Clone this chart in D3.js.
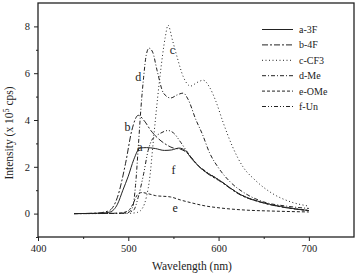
<!DOCTYPE html>
<html>
<head>
<meta charset="utf-8">
<script src="https://cdn.jsdelivr.net/npm/d3@7"></script>
<style>
  body { margin: 0; background: #fff; }
  svg text { font-family: "Liberation Serif", "Times New Roman", "DejaVu Serif", serif; fill: #222; }
</style>
</head>
<body>
<div id="chart"></div>
<script>
// Emission spectra, [wavelength nm, intensity x 10^5 cps]
const a3F = [[440,0],[470,0.02],[480,0.07],[488,0.4],[494,1.0],[500,1.6],[506,2.3],[513,2.8],[520,2.82],[530,2.78],[540,2.7],[548,2.72],[556,2.8],[563,2.7],[570,2.35],[580,1.95],[600,1.45],[625,0.8],[650,0.46],[675,0.26],[700,0.13]];
const b4F = [[440,0],[465,0.02],[475,0.08],[480,0.15],[488,0.7],[497,2.15],[504,3.57],[511,4.2],[518,3.95],[525,3.55],[532,3.25],[540,3.0],[550,2.8],[558,2.75],[565,2.6],[572,2.3],[580,1.95],[590,1.65],[600,1.42],[625,0.78],[650,0.45],[675,0.25],[700,0.13]];
const cCF3 = [[440,0],[500,0.01],[510,0.05],[516,0.25],[520,0.7],[524,1.6],[527,2.8],[530,4.0],[535,5.83],[541,7.55],[544,8.05],[549,7.4],[554,6.7],[561,5.84],[569,5.45],[576,5.6],[583,5.7],[590,5.4],[597,4.8],[605,3.9],[615,2.9],[627,2.0],[640,1.45],[660,0.85],[680,0.5],[700,0.32]];
const dMe = [[440,0],[490,0.01],[500,0.05],[505,0.3],[508,1.2],[511,2.8],[514,4.5],[517,5.83],[520,6.8],[523,7.07],[527,6.9],[532,6.1],[539,5.15],[547,4.94],[554,5.07],[561,5.15],[566,4.9],[575,4.0],[582,3.4],[590,2.6],[600,1.95],[613,1.35],[630,0.85],[650,0.5],[675,0.32],[700,0.22]];
const eOMe = [[440,0],[490,0.02],[500,0.12],[505,0.4],[510,0.8],[515,0.9],[522,0.85],[530,0.77],[547,0.71],[558,0.58],[569,0.47],[585,0.33],[602,0.24],[630,0.15],[658,0.11],[700,0.07]];
const fUn = [[440,0],[490,0.01],[500,0.05],[506,0.15],[511,0.7],[517,1.7],[522,2.7],[527,3.2],[535,3.42],[544,3.55],[550,3.45],[558,3.05],[566,2.6],[575,2.15],[590,1.7],[600,1.45],[625,0.8],[650,0.46],[675,0.26],[700,0.13]];

const seriesNames = ['a-3F', 'b-4F', 'c-CF3', 'd-Me', 'e-OMe', 'f-Un'];
const seriesData = [a3F, b4F, cCF3, dMe, eOMe, fUn];
const dashes = ['none', '6,2,2,2', '1,2.5', '4,2,1,2', '3,2', '4,2,1,2,1,2'];

// in-plot letters: [text, wavelength, intensity]
const curveLabels = [['c', 549, 7.0], ['d', 511, 5.84], ['b', 499, 3.7], ['a', 513, 2.84], ['f', 550, 1.86], ['e', 552, 0.24]];

const xMajor = [400, 500, 600, 700];
const xMinor = [450, 550, 650];
const yMajor = [0, 2, 4, 6, 8];
const yMinor = [-1, 1, 3, 5, 7];

const W = 357, H = 273;
const margin = {top: 3, right: 3, bottom: 36, left: 38};
const serif = '"Liberation Serif", "Times New Roman", "DejaVu Serif", serif';

const svg = d3.select('#chart')
    .append('svg')
        .attr('width', W)
        .attr('height', H)
        .attr('font-family', serif);

const x = d3.scaleLinear()
    .domain([400, 750])
    .range([margin.left, W - margin.right]);
const y = d3.scaleLinear()
    .domain([-1, 9])
    .range([H - margin.bottom, margin.top]);

// Frame
svg.append('rect')
    .attr('x', x(400))
    .attr('y', y(9))
    .attr('width', x(750) - x(400))
    .attr('height', y(-1) - y(9))
    .attr('fill', 'none')
    .attr('stroke', '#222')
    .attr('stroke-width', 1.3);

// X axis
svg.append('g')
    .attr('transform', `translate(0,${y(-1)})`)
    .call(d3.axisBottom(x).tickValues(xMajor).tickSize(4).tickPadding(4).tickFormat(d3.format('d')));
svg.append('g')
    .attr('transform', `translate(0,${y(-1)})`)
    .call(d3.axisBottom(x).tickValues(xMinor).tickSize(2).tickFormat(''));

// Y axis
svg.append('g')
    .attr('transform', `translate(${x(400)},0)`)
    .call(d3.axisLeft(y).tickValues(yMajor).tickSize(4).tickPadding(4).tickFormat(d3.format('d')));
svg.append('g')
    .attr('transform', `translate(${x(400)},0)`)
    .call(d3.axisLeft(y).tickValues(yMinor).tickSize(2).tickFormat(''));

svg.selectAll('g').attr('font-family', serif);
svg.selectAll('.domain').remove();
svg.selectAll('.tick line').attr('stroke', '#222');
svg.selectAll('.tick text')
    .attr('font-size', 10.5)
    .attr('fill', '#222');

// Axis titles
svg.append('text')
    .attr('x', 192)
    .attr('y', 270)
    .attr('text-anchor', 'middle')
    .attr('font-size', 11.5)
    .text('Wavelength (nm)');

const yTitle = svg.append('text')
    .attr('transform', 'translate(13,133) rotate(-90)')
    .attr('text-anchor', 'middle')
    .attr('font-size', 11.5);
yTitle.append('tspan').text('Intensity (x 10');
yTitle.append('tspan').attr('dy', -4).attr('font-size', 8).text('5');
yTitle.append('tspan').attr('dy', 4).text(' cps)');

// Curves
const line = d3.line()
    .x(d => x(d[0]))
    .y(d => y(d[1]))
    .curve(d3.curveMonotoneX);

svg.selectAll('path.curve')
    .data(seriesData)
    .enter()
    .append('path')
        .attr('class', 'curve')
        .attr('d', line)
        .attr('fill', 'none')
        .attr('stroke', '#222')
        .attr('stroke-width', 1)
        .attr('stroke-dasharray', (d, i) => dashes[i]);

// Letters beside curves
svg.selectAll('text.clabel')
    .data(curveLabels)
    .enter()
    .append('text')
        .attr('class', 'clabel')
        .attr('x', d => x(d[1]))
        .attr('y', d => y(d[2]))
        .attr('dy', '0.35em')
        .attr('text-anchor', 'middle')
        .attr('font-size', 12)
        .text(d => d[0]);

// Legend
const legend = svg.append('g');
seriesNames.forEach((name, i) => {
    const ly = 29.5 + i * 15.4;
    legend.append('line')
        .attr('x1', 262)
        .attr('x2', 293)
        .attr('y1', ly)
        .attr('y2', ly)
        .attr('stroke', '#222')
        .attr('stroke-width', 1)
        .attr('stroke-dasharray', dashes[i]);
    legend.append('text')
        .attr('x', 299)
        .attr('y', ly)
        .attr('dy', '0.35em')
        .attr('font-size', 10)
        .text(name);
});
</script>
</body>
</html>
